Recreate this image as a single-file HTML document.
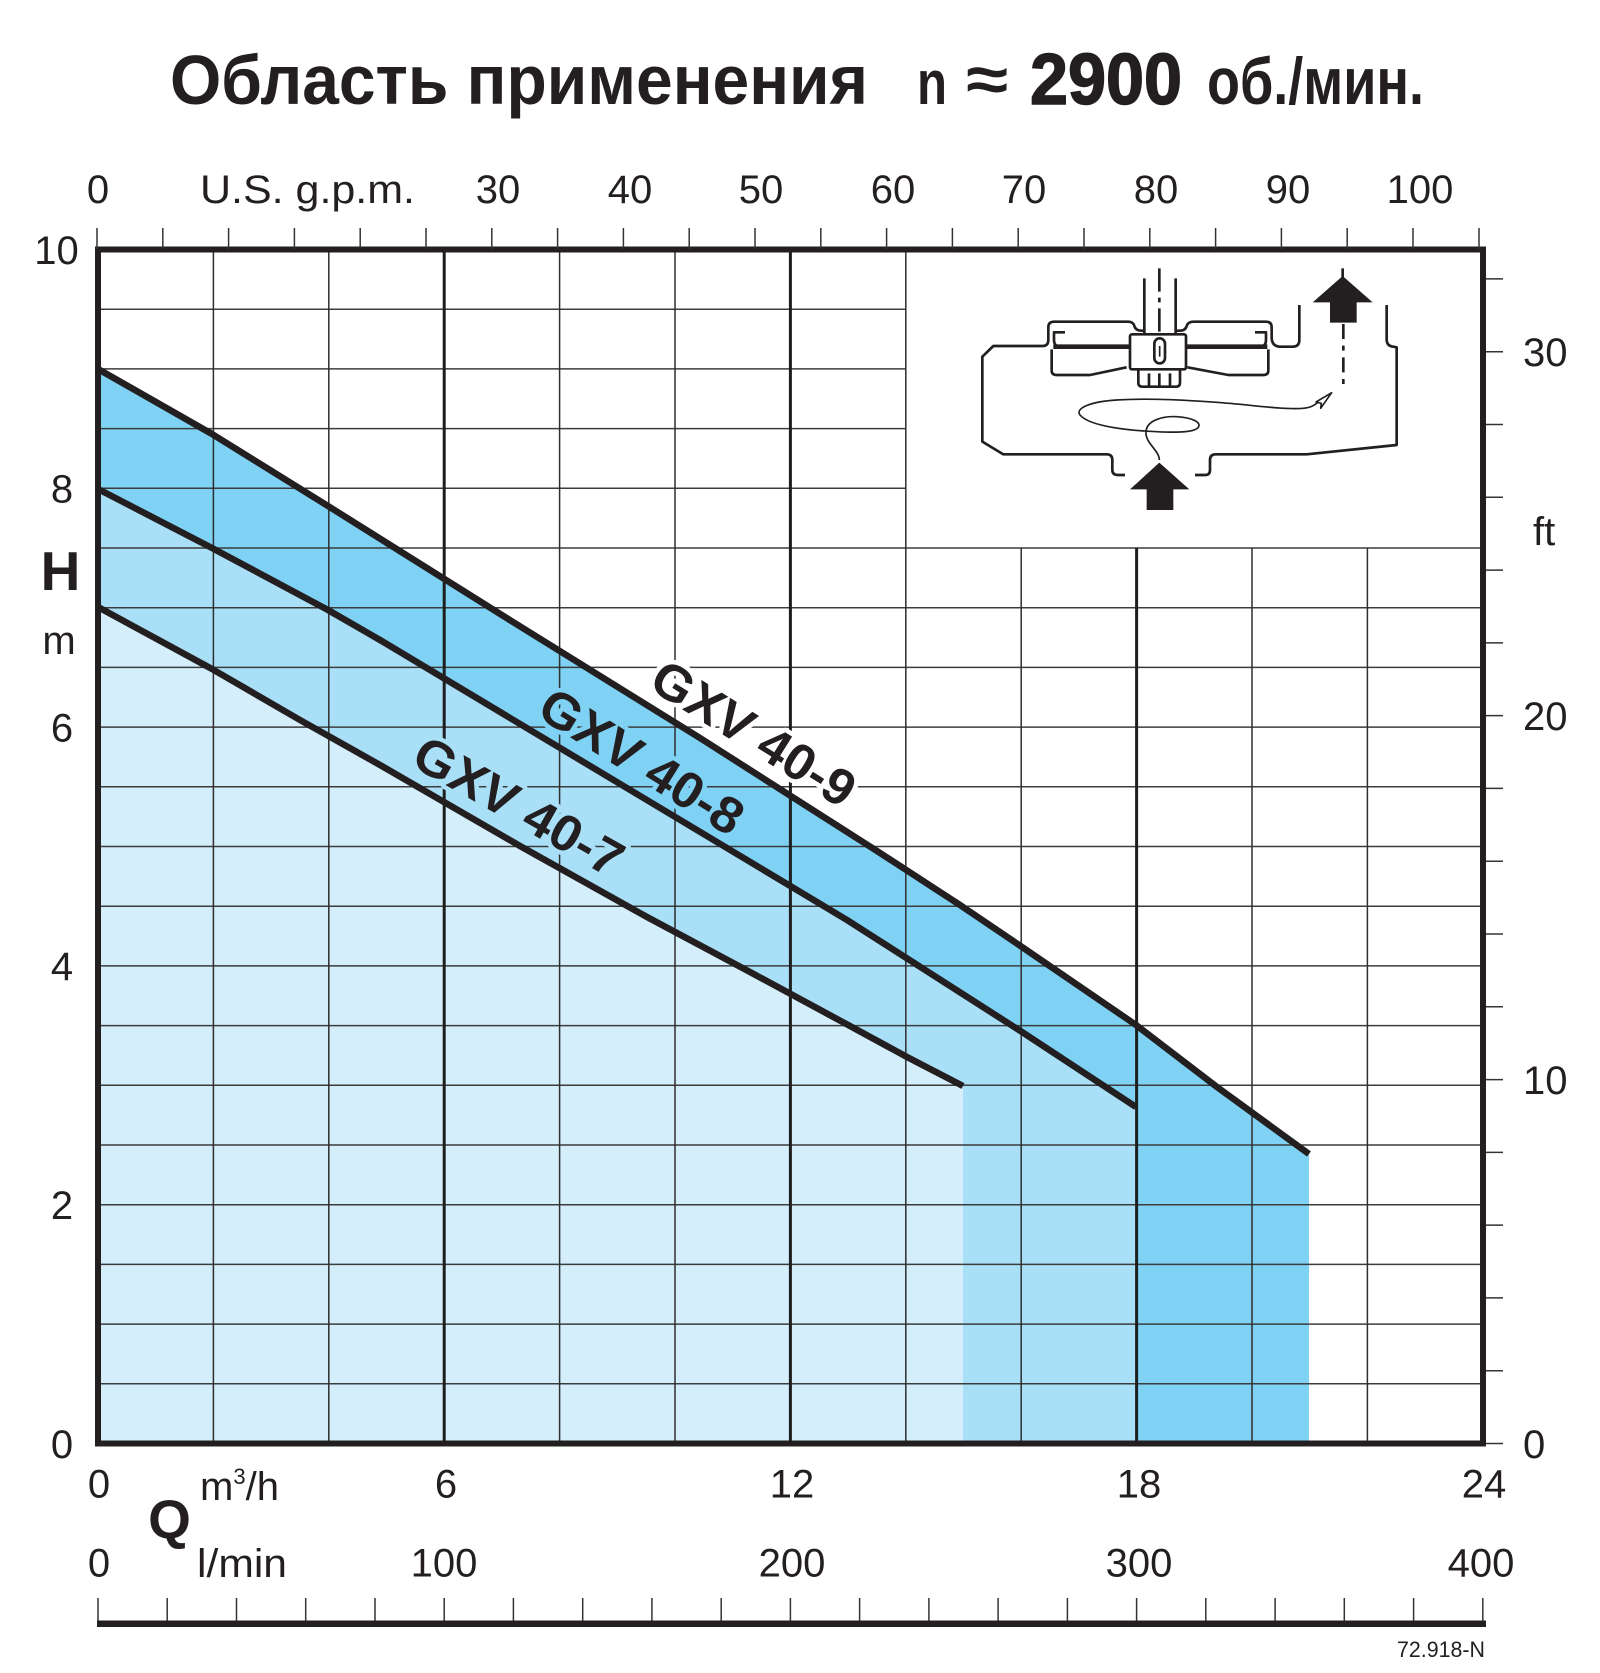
<!DOCTYPE html>
<html><head><meta charset="utf-8"><style>
html,body{margin:0;padding:0;background:#fff;}
svg{display:block;}
text{font-family:"Liberation Sans","DejaVu Sans",sans-serif;fill:#231f20;}
</style></head><body>
<svg width="1600" height="1673" viewBox="0 0 1600 1673" xmlns="http://www.w3.org/2000/svg">
<rect x="0" y="0" width="1600" height="1673" fill="#fff"/>

<!-- Title -->
<text x="170" y="104" font-size="70" font-weight="bold" textLength="698" lengthAdjust="spacingAndGlyphs">Область применения</text>
<text x="917" y="104" font-size="62" font-weight="bold" textLength="30" lengthAdjust="spacingAndGlyphs">n</text>
<text x="966" y="101" font-size="64" font-weight="bold" textLength="42" lengthAdjust="spacingAndGlyphs">≈</text>
<text x="1030" y="104" font-size="72" font-weight="bold" textLength="152" lengthAdjust="spacingAndGlyphs" stroke="#231f20" stroke-width="1.5">2900</text>
<text x="1207" y="104" font-size="66" font-weight="bold" textLength="217" lengthAdjust="spacingAndGlyphs">об./мин.</text>

<!-- Fills -->
<path d="M98,1443.5 L98,369 L212,434 L328,506 L513,622 L700,738 L877,851 L960,905 L1022,947 L1136,1025 L1217,1087 L1309,1154 L1309,1443.5 Z" fill="#7fd2f4"/>
<path d="M98,1443.5 L98,489 L212,548 L328,610 L380,640 L847,920 L1022,1032 L1136,1107 L1136,1443.5 Z" fill="#a9e0f8"/>
<path d="M98,1443.5 L98,607 L212,669 L300,720 L380,765 L520,846 L647,917 L750,972 L850,1026 L907,1057 L963,1086 L963,1443.5 Z" fill="#d4eefb"/>

<!-- Grid horizontal -->
<g stroke="#3c3c3c" stroke-width="1.5">
<line x1="98" y1="1383.8" x2="1483" y2="1383.8"/>
<line x1="98" y1="1324.1" x2="1483" y2="1324.1"/>
<line x1="98" y1="1264.4" x2="1483" y2="1264.4"/>
<line x1="98" y1="1204.7" x2="1483" y2="1204.7"/>
<line x1="98" y1="1145" x2="1483" y2="1145"/>
<line x1="98" y1="1085.3" x2="1483" y2="1085.3"/>
<line x1="98" y1="1025.6" x2="1483" y2="1025.6"/>
<line x1="98" y1="965.9" x2="1483" y2="965.9"/>
<line x1="98" y1="906.2" x2="1483" y2="906.2"/>
<line x1="98" y1="846.5" x2="1483" y2="846.5"/>
<line x1="98" y1="786.8" x2="1483" y2="786.8"/>
<line x1="98" y1="727.1" x2="1483" y2="727.1"/>
<line x1="98" y1="667.4" x2="1483" y2="667.4"/>
<line x1="98" y1="607.7" x2="1483" y2="607.7"/>
<line x1="98" y1="548" x2="1483" y2="548"/>
<line x1="98" y1="488.3" x2="906" y2="488.3"/>
<line x1="98" y1="428.6" x2="906" y2="428.6"/>
<line x1="98" y1="368.9" x2="906" y2="368.9"/>
<line x1="98" y1="309.2" x2="906" y2="309.2"/>
</g>
<!-- Grid vertical thin -->
<g stroke="#2e2e2e" stroke-width="1.5">
<line x1="213.4" y1="249.5" x2="213.4" y2="1443.5"/>
<line x1="328.8" y1="249.5" x2="328.8" y2="1443.5"/>
<line x1="559.6" y1="249.5" x2="559.6" y2="1443.5"/>
<line x1="675" y1="249.5" x2="675" y2="1443.5"/>
<line x1="905.8" y1="249.5" x2="905.8" y2="1443.5"/>
<line x1="1021.2" y1="548" x2="1021.2" y2="1443.5"/>
<line x1="1252" y1="548" x2="1252" y2="1443.5"/>
<line x1="1367.4" y1="548" x2="1367.4" y2="1443.5"/>
</g>
<!-- Grid vertical heavy -->
<g stroke="#1e1e1e" stroke-width="3">
<line x1="444.2" y1="249.5" x2="444.2" y2="1443.5"/>
<line x1="790.4" y1="249.5" x2="790.4" y2="1443.5"/>
<line x1="1136.6" y1="548" x2="1136.6" y2="1443.5"/>
</g>

<!-- Curve labels -->
<g font-size="51" font-weight="bold" text-anchor="middle" paint-order="stroke" stroke-width="9" stroke-linejoin="round">
<text transform="translate(754,733) rotate(32)" x="0" y="18" stroke="#ffffff" textLength="230" lengthAdjust="spacingAndGlyphs">GXV 40-9</text>
<text transform="translate(642,761) rotate(32)" x="0" y="18" stroke="#7fd2f4" textLength="230" lengthAdjust="spacingAndGlyphs">GXV 40-8</text>
<text transform="translate(519,806) rotate(29.5)" x="0" y="18" stroke="#a9e0f8" textLength="232" lengthAdjust="spacingAndGlyphs">GXV 40-7</text>
</g>

<!-- Curves -->
<g fill="none" stroke="#231f20" stroke-width="6.5" stroke-linejoin="round" stroke-linecap="butt">
<polyline points="98,369 212,434 328,506 513,622 700,738 877,851 960,905 1022,947 1136,1025 1217,1087 1309,1154"/>
<polyline points="98,489 212,548 328,610 380,640 847,920 1022,1032 1136,1107"/>
<polyline points="98,607 212,669 300,720 380,765 520,846 647,917 750,972 850,1026 907,1057 963,1086"/>
</g>

<!-- Frame -->
<rect x="98" y="249.5" width="1385" height="1194" fill="none" stroke="#231f20" stroke-width="6"/>

<!-- Top gpm ticks -->
<g stroke="#333" stroke-width="1.5">
<line x1="97" y1="228" x2="97" y2="249"/><line x1="162.8" y1="228" x2="162.8" y2="249"/>
<line x1="228.6" y1="228" x2="228.6" y2="249"/><line x1="294.4" y1="228" x2="294.4" y2="249"/>
<line x1="360.2" y1="228" x2="360.2" y2="249"/><line x1="426" y1="228" x2="426" y2="249"/>
<line x1="491.8" y1="228" x2="491.8" y2="249"/><line x1="557.6" y1="228" x2="557.6" y2="249"/>
<line x1="623.4" y1="228" x2="623.4" y2="249"/><line x1="689.2" y1="228" x2="689.2" y2="249"/>
<line x1="755" y1="228" x2="755" y2="249"/><line x1="820.8" y1="228" x2="820.8" y2="249"/>
<line x1="886.6" y1="228" x2="886.6" y2="249"/><line x1="952.4" y1="228" x2="952.4" y2="249"/>
<line x1="1018.2" y1="228" x2="1018.2" y2="249"/><line x1="1084" y1="228" x2="1084" y2="249"/>
<line x1="1149.8" y1="228" x2="1149.8" y2="249"/><line x1="1215.6" y1="228" x2="1215.6" y2="249"/>
<line x1="1281.4" y1="228" x2="1281.4" y2="249"/><line x1="1347.2" y1="228" x2="1347.2" y2="249"/>
<line x1="1413" y1="228" x2="1413" y2="249"/><line x1="1479" y1="228" x2="1479" y2="249"/>
</g>

<!-- Right ft ticks -->
<g stroke="#333" stroke-width="1.5">
<line x1="1486" y1="1443.5" x2="1503" y2="1443.5"/><line x1="1486" y1="1370.7" x2="1503" y2="1370.7"/>
<line x1="1486" y1="1297.9" x2="1503" y2="1297.9"/><line x1="1486" y1="1225.1" x2="1503" y2="1225.1"/>
<line x1="1486" y1="1152.4" x2="1503" y2="1152.4"/><line x1="1486" y1="1079.6" x2="1503" y2="1079.6"/>
<line x1="1486" y1="1006.8" x2="1503" y2="1006.8"/><line x1="1486" y1="934" x2="1503" y2="934"/>
<line x1="1486" y1="861.2" x2="1503" y2="861.2"/><line x1="1486" y1="788.4" x2="1503" y2="788.4"/>
<line x1="1486" y1="715.6" x2="1503" y2="715.6"/><line x1="1486" y1="642.9" x2="1503" y2="642.9"/>
<line x1="1486" y1="570.1" x2="1503" y2="570.1"/><line x1="1486" y1="497.3" x2="1503" y2="497.3"/>
<line x1="1486" y1="424.5" x2="1503" y2="424.5"/><line x1="1486" y1="351.7" x2="1503" y2="351.7"/>
<line x1="1486" y1="278.9" x2="1503" y2="278.9"/>
</g>

<!-- Top axis labels -->
<g font-size="40" text-anchor="middle">
<text x="98" y="203">0</text>
<text x="498" y="203">30</text>
<text x="630" y="203">40</text>
<text x="761" y="203">50</text>
<text x="893" y="203">60</text>
<text x="1024" y="203">70</text>
<text x="1156" y="203">80</text>
<text x="1288" y="203">90</text>
<text x="1420" y="203">100</text>
</g>
<text x="200" y="203" font-size="40" textLength="215" lengthAdjust="spacingAndGlyphs">U.S. g.p.m.</text>

<!-- Left axis labels -->
<g font-size="40" text-anchor="middle">
<text x="56.5" y="264">10</text>
<text x="62" y="502.6">8</text>
<text x="62" y="741.4">6</text>
<text x="62" y="980.2">4</text>
<text x="62" y="1219">2</text>
<text x="62" y="1458">0</text>
</g>
<text x="60.5" y="590" font-size="55" font-weight="bold" text-anchor="middle">H</text>
<text x="59" y="654" font-size="40" text-anchor="middle">m</text>

<!-- Right axis labels -->
<g font-size="40">
<text x="1523" y="1458">0</text>
<text x="1523" y="1094">10</text>
<text x="1523" y="730">20</text>
<text x="1523" y="366">30</text>
<text x="1533" y="545">ft</text>
</g>

<!-- Bottom labels -->
<g font-size="40" text-anchor="middle">
<text x="99" y="1497.5">0</text>
<text x="446" y="1497.5">6</text>
<text x="792" y="1497.5">12</text>
<text x="1139" y="1497.5">18</text>
<text x="1484" y="1497.5">24</text>
<text x="99" y="1576.5">0</text>
<text x="444" y="1576.5">100</text>
<text x="792" y="1576.5">200</text>
<text x="1139" y="1576.5">300</text>
<text x="1481" y="1576.5">400</text>
</g>
<text x="200" y="1500" font-size="40" textLength="79" lengthAdjust="spacingAndGlyphs">m<tspan font-size="22" dy="-16">3</tspan><tspan dy="16">/h</tspan></text>
<text x="197" y="1577" font-size="40" textLength="90" lengthAdjust="spacingAndGlyphs">l/min</text>
<text x="169.5" y="1538" font-size="55" font-weight="bold" text-anchor="middle">Q</text>

<!-- Bottom l/min scale -->
<g stroke="#333" stroke-width="1.5">
<line x1="98" y1="1598" x2="98" y2="1621"/><line x1="167.2" y1="1598" x2="167.2" y2="1621"/>
<line x1="236.5" y1="1598" x2="236.5" y2="1621"/><line x1="305.7" y1="1598" x2="305.7" y2="1621"/>
<line x1="375" y1="1598" x2="375" y2="1621"/><line x1="444.2" y1="1598" x2="444.2" y2="1621"/>
<line x1="513.4" y1="1598" x2="513.4" y2="1621"/><line x1="582.7" y1="1598" x2="582.7" y2="1621"/>
<line x1="651.9" y1="1598" x2="651.9" y2="1621"/><line x1="721.2" y1="1598" x2="721.2" y2="1621"/>
<line x1="790.4" y1="1598" x2="790.4" y2="1621"/><line x1="859.6" y1="1598" x2="859.6" y2="1621"/>
<line x1="928.9" y1="1598" x2="928.9" y2="1621"/><line x1="998.1" y1="1598" x2="998.1" y2="1621"/>
<line x1="1067.4" y1="1598" x2="1067.4" y2="1621"/><line x1="1136.6" y1="1598" x2="1136.6" y2="1621"/>
<line x1="1205.8" y1="1598" x2="1205.8" y2="1621"/><line x1="1275.1" y1="1598" x2="1275.1" y2="1621"/>
<line x1="1344.3" y1="1598" x2="1344.3" y2="1621"/><line x1="1413.6" y1="1598" x2="1413.6" y2="1621"/>
<line x1="1482.8" y1="1598" x2="1482.8" y2="1621"/>
</g>
<rect x="97" y="1620.5" width="1389" height="6.5" fill="#231f20"/>
<text x="1397" y="1657" font-size="22" textLength="88" lengthAdjust="spacingAndGlyphs">72.918-N</text>

<!-- Inset pump diagram -->
<g transform="translate(950,240) scale(0.33333)" fill="none" stroke="#231f20" stroke-width="8" stroke-linejoin="round" stroke-linecap="butt">
<path d="M525,705 L505,705 Q487,705 487,690 L487,660 Q487,643 470,643 L160,643 L97,605 L97,350 L130,318 L278,318 Q295,318 295,300 L295,262 Q295,245 312,245 L535,245 Q550,245 553,258 Q557,272 575,272 L583,272"/>
<path d="M677,272 L690,272 Q706,272 710,258 Q714,245 730,245 L948,245 Q965,245 965,262 L965,295 Q967,320 992,320 L1028,320 Q1048,320 1048,300 L1048,195"/>
<path d="M1310,195 L1310,298 Q1310,318 1330,320 L1340,322 L1340,615 L1070,643 L797,643 Q780,643 780,660 L780,690 Q780,705 765,705 L735,705"/>
<path d="M583,115 L583,285 M677,115 L677,285"/>
<rect x="540" y="283" width="168" height="105" rx="6"/>
<rect x="613" y="295" width="32" height="75" rx="16"/>
<path d="M629,318 L629,350" stroke-width="5"/>
<path d="M565,388 L565,428 Q565,440 577,440 L678,440 Q690,440 690,428 L690,388 M597,400 L597,440 M628,400 L628,440 M660,400 L660,440"/>
<path d="M540,320 L310,320 M708,320 L952,320" stroke-width="14"/>
<path d="M305,328 L305,392 Q305,405 320,405 L420,405 L530,382"/>
<path d="M955,328 L955,392 Q955,405 940,405 L835,405 L712,382"/>
<path d="M345,277 L312,277 L312,300 Q312,316 325,320"/>
<path d="M915,277 L948,277 L948,300 Q948,316 935,320"/>
<path d="M628,85 L628,280" stroke-dasharray="70,18,14,18"/>
<path d="M1178,85 L1178,112"/>
<path d="M1180,252 L1180,440" stroke-dasharray="45,20,15,20"/>
<path d="M628,660 C628,630 585,610 588,575 C590,540 640,528 680,530 C730,533 752,548 746,560 C738,578 680,578 620,575 C540,572 420,560 390,525 C375,505 420,485 500,480 C600,474 700,480 800,487 C900,494 1000,510 1060,505 C1090,502 1100,490 1115,478" stroke-width="5"/>
<path d="M1145,458 L1098,486 L1114,490 L1112,505 Z" fill="#fff" stroke-width="5"/>
<path d="M1178,108 L1268,187 L1220,187 L1220,248 L1140,248 L1140,187 L1088,187 Z" fill="#231f20" stroke="none"/>
<path d="M628,668 L718,748 L670,748 L670,810 L590,810 L590,748 L540,748 Z" fill="#231f20" stroke="none"/>
</g>
</svg>
</body></html>
